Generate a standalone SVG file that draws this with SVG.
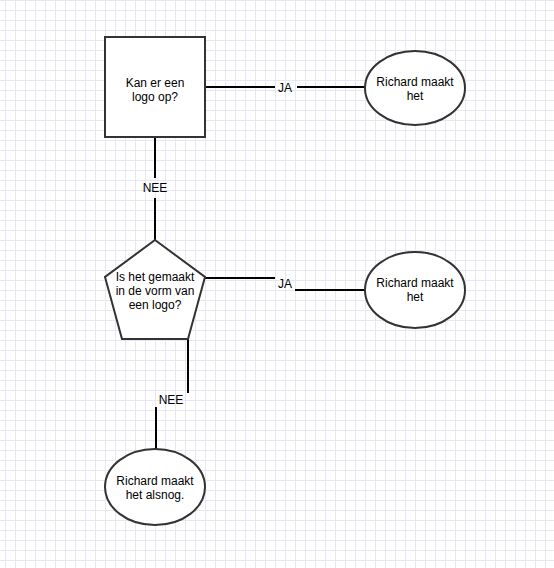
<svg xmlns="http://www.w3.org/2000/svg" width="554" height="568" viewBox="0 0 554 568">
<style>
.shape{fill:#ffffff;stroke:#333333;stroke-width:2}
.edge{fill:none;stroke:#000000;stroke-width:2}
.t{font-family:"Liberation Sans",Arial,sans-serif;font-size:12px;fill:#000000;text-anchor:middle}
.lbl{fill:#ffffff}
</style>
<defs>
<pattern id="grid" width="10" height="10" patternUnits="userSpaceOnUse" x="0" y="0">
<path d="M5.5 0V10M0 0.5H10" stroke="#e6e6f6" stroke-width="1" fill="none"/>
</pattern>
</defs>
<rect width="554" height="568" fill="#ffffff"/>
<rect width="554" height="568" fill="url(#grid)"/>
<g id="connectors">
<path class="edge" d="M205 87H275M297 87H365"/>
<path class="edge" d="M155 137V178M155 198V240"/>
<path class="edge" d="M205 278H275M295 290H365"/>
<path class="edge" d="M188 339V393M156 407V458"/>
<text class="t" x="285" y="92">JA</text>
<text class="t" x="155" y="192">NEE</text>
<text class="t" x="285" y="288">JA</text>
<text class="t" x="171" y="404">NEE</text>
</g>
<g id="n1">
<rect class="shape" x="105" y="37" width="100" height="100"/>
<text class="t" x="155" y="87">Kan er een</text>
<text class="t" x="155" y="101">logo op?</text>
</g>
<g id="n2">
<ellipse class="shape" cx="415" cy="88" rx="50" ry="37"/>
<text class="t" x="415" y="86">Richard maakt</text>
<text class="t" x="415" y="100">het</text>
</g>
<g id="n3">
<polygon class="shape" points="155,240 205,277 188,339 122,339 105,277"/>
<text class="t" x="155" y="281">Is het gemaakt</text>
<text class="t" x="155" y="295">in de vorm van</text>
<text class="t" x="155" y="309">een logo?</text>
</g>
<g id="n4">
<ellipse class="shape" cx="415" cy="290" rx="50" ry="38"/>
<text class="t" x="415" y="287">Richard maakt</text>
<text class="t" x="415" y="301">het</text>
</g>
<g id="n5">
<ellipse class="shape" cx="155" cy="487" rx="50" ry="38"/>
<text class="t" x="155" y="485">Richard maakt</text>
<text class="t" x="155" y="499">het alsnog.</text>
</g>
</svg>
